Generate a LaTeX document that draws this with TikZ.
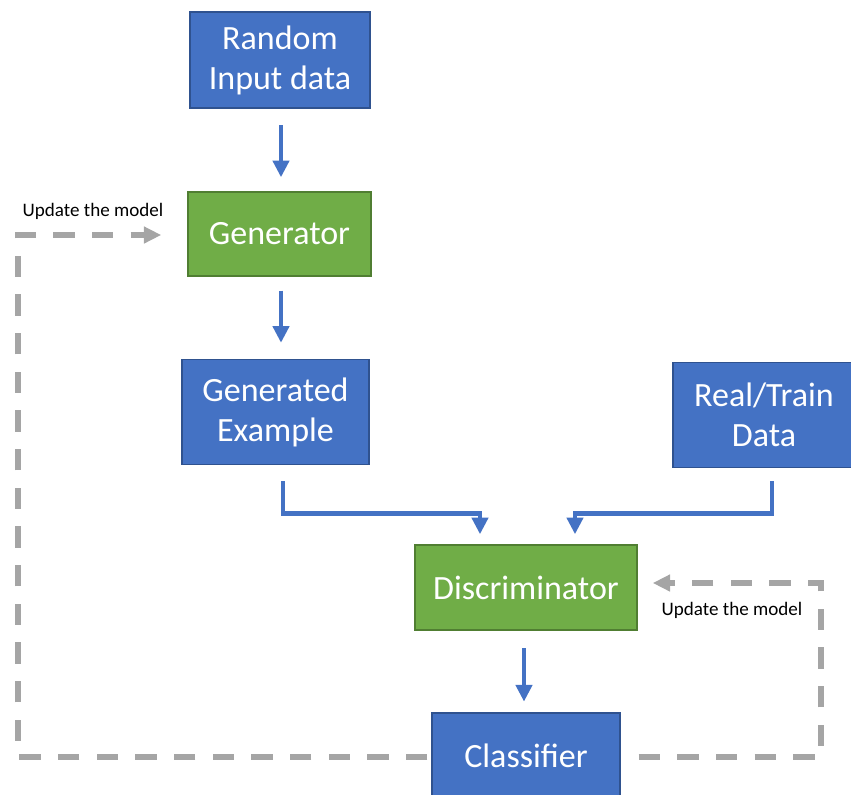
\documentclass[tikz,border=0pt]{standalone}
\usepackage{fontspec}
\setmainfont{Carlito}
\usetikzlibrary{arrows.meta}
\definecolor{boxblue}{HTML}{4472C4}
\definecolor{blueedge}{HTML}{2F528F}
\definecolor{boxgreen}{HTML}{70AD47}
\definecolor{greenedge}{HTML}{507E32}
\definecolor{fbgray}{HTML}{A5A5A5}
\tikzset{
  block/.style={rectangle, draw, line width=1.1pt, text=white, align=center,
    inner sep=0pt, font=\fontsize{25.5}{30}\selectfont},
  bluebox/.style={block, fill=boxblue, draw=blueedge},
  greenbox/.style={block, fill=boxgreen, draw=greenedge},
  flow/.style={draw=boxblue, line width=3.6pt,
    -{Triangle[width=12pt,length=12.5pt]}},
  fb/.style={draw=fbgray, line width=4.2pt, dash pattern=on 16pt off 13pt,
    -{Triangle[width=12pt,length=13pt]}},
  fblabel/.style={font=\fontsize{14.3}{16}\selectfont, text=black}
}
\begin{document}
\begin{tikzpicture}[x=0.75pt,y=-0.75pt]
  \useasboundingbox (0,0) rectangle (851,794);
  \clip (0,0) rectangle (851,794);

  % blocks
  \node[bluebox, minimum width=180*0.75pt, minimum height=96*0.75pt]
    (rnd) at (280,60) {Random\\Input data};
  \node[greenbox, minimum width=183*0.75pt, minimum height=84*0.75pt]
    (gen) at (279.5,234) {Generator};
  \node[bluebox, minimum width=187*0.75pt, minimum height=105*0.75pt]
    (gex) at (275.5,412) {Generated\\Example};
  \node[bluebox, minimum width=182*0.75pt, minimum height=105*0.75pt]
    (rtd) at (764,415) {Real/Train\\Data};
  \node[greenbox, minimum width=222*0.75pt, minimum height=85*0.75pt]
    (dis) at (526,587.5) {Discriminator};
  \node[bluebox, minimum width=188*0.75pt, minimum height=86*0.75pt]
    (cls) at (526,756) {Classifier};

  % main data flow
  \draw[flow, shorten <=12.5pt, shorten >=10.5pt] (rnd.south -| 281,0) -- (gen.north -| 281,0);
  \draw[flow, shorten <=10.5pt, shorten >=12pt] (gen.south -| 281,0) -- (gex.north -| 281,0);
  \draw[flow] ([shift={(7.5,16)}]gex.south) |- ([shift={(-46,-31)}]dis.north)
    -- ([shift={(-46,-10)}]dis.north);
  \draw[flow] ([shift={(8,13)}]rtd.south) |- ([shift={(49,-31)}]dis.north)
    -- ([shift={(49,-10)}]dis.north);
  \draw[flow, shorten <=13pt, shorten >=8pt] (dis.south -| 524,0) -- (cls.north -| 524,0);

  % feedback loops
  \coordinate (r1) at (821,757);
  \coordinate (r2) at (821,583);
  \draw[fb] ([shift={(18,1)}]cls.east) -- (r1) -- (r2) -- ([shift={(15,-4.5)}]dis.east);
  \node[fblabel] (lblr) at (732,610) {Update the model};

  \coordinate (l1) at (18,757);
  \coordinate (l2) at (18,235);
  \draw[fb] ([shift={(-4,1)}]cls.west) -- (l1) -- (l2) -- ([shift={(-26,1)}]gen.west);
  \node[fblabel] (lbll) at (93,211) {Update the model};
\end{tikzpicture}
\end{document}
